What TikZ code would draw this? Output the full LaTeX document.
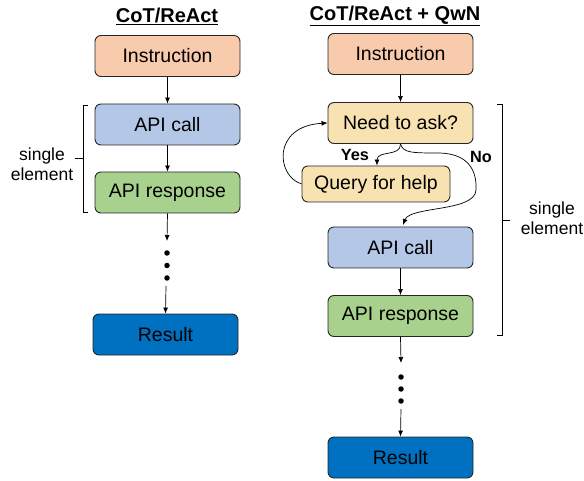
\documentclass[tikz,border=0pt]{standalone}
\usepackage{fontspec}
\setmainfont{Liberation Sans}
\usetikzlibrary{arrows.meta}
\definecolor{instr}{HTML}{F8CBAD}
\definecolor{apicall}{HTML}{B4C7E7}
\definecolor{apiresp}{HTML}{A9D18E}
\definecolor{ask}{HTML}{F8E2B2}
\definecolor{result}{HTML}{0070C0}
\definecolor{border}{HTML}{262626}
\begin{document}
\begin{tikzpicture}[x=1pt,y=-1pt,
  box/.style={draw=border, line width=0.9pt, rounded corners=6pt, minimum width=145pt, minimum height=41pt, inner sep=0pt, font=\fontsize{19.5}{22}\selectfont},
  conn/.style={draw=black, line width=0.7pt, -{Latex[length=6pt,width=5pt]}},
  brk/.style={draw=black, line width=0.8pt},
  side/.style={align=center, font=\fontsize{17.5}{20}\selectfont},
  lab/.style={font=\bfseries\fontsize{16.3}{18}\selectfont},
  ttl/.style={font=\bfseries\fontsize{20}{22}\selectfont},
  dot/.style={circle, fill=black, inner sep=0pt, minimum size=5.5pt}]
\useasboundingbox (0,0) rectangle (584,481);
% titles
\node[ttl] (t1) at (167,16) {\underline{CoT/ReAct}};
\node[ttl] (t2) at (395,16) {\underline{CoT/ReAct + QwN}};
% left column
\node[box, fill=instr] (li) at (167.5,56) {Instruction};
\node[box, fill=apicall] (lc) at (167.5,124.5) {API call};
\node[box, fill=apiresp] (lr) at (167.5,192.5) {API response};
\node[box, fill=result] (lres) at (165.5,334.5) {Result};
\coordinate (ld1) at (167,241);
\coordinate (ld2) at (166,286);
\node[dot] (la) at (167,253) {};
\node[dot] (lb) at (167,265.5) {};
\node[dot] (lcdot) at (167,278) {};
\draw[conn] (li) -- (lc);
\draw[conn] (lc) -- (lr);
\draw[conn] (lr.south) -- (ld1);
\draw[conn] (ld2) -- (lres.north);
\draw[brk] (88,105) -- (83,105) -- (83,212) -- (88,212);
\draw[brk] (83,158) -- (75,158);
\node[side] (ls) at (42,164) {single\\element};
% right column
\node[box, fill=instr] (ri) at (400.5,54) {Instruction};
\node[box, fill=ask] (ra) at (400.5,123) {Need to ask?};
\node[box, fill=ask, minimum width=148pt, minimum height=36pt] (rq) at (376,184) {Query for help};
\node[box, fill=apicall] (rc) at (400.5,247.5) {API call};
\node[box, fill=apiresp] (rr) at (400.5,316) {API response};
\node[box, fill=result] (rres) at (400.5,457.5) {Result};
\coordinate (rd1) at (401,363);
\coordinate (rd2) at (401,409);
\node[dot] (ra1) at (401,377) {};
\node[dot] (ra2) at (401,389) {};
\node[dot] (ra3) at (401,401) {};
\draw[conn] (ri) -- (ra);
\draw[conn] (rc) -- (rr);
\draw[conn] (rr.south) -- (rd1);
\draw[conn] (rd2) -- (rres.north);
% Yes branch
\draw[conn] (ra.south) .. controls (401,157) and (377,150) .. (rq.north -| 377,0);
% No branch
\draw[conn] (ra.south) .. controls (403,153) and (412,153) .. (440,153)
  .. controls (468,154) and (477,170) .. (476,190)
  .. controls (475,212) and (410,206) .. (403,225);
% loop back
\draw[conn] (rq.west) .. controls (276,176) and (272,126) .. (ra.west);
\node[lab] (yes) at (355,155) {Yes};
\node[lab] (no) at (481,157) {No};
\draw[brk] (497,104) -- (502,104) -- (502,335) -- (497,335);
\draw[brk] (502,220) -- (510,220);
\node[side] (rs) at (552,218) {single\\element};
\end{tikzpicture}
\end{document}
